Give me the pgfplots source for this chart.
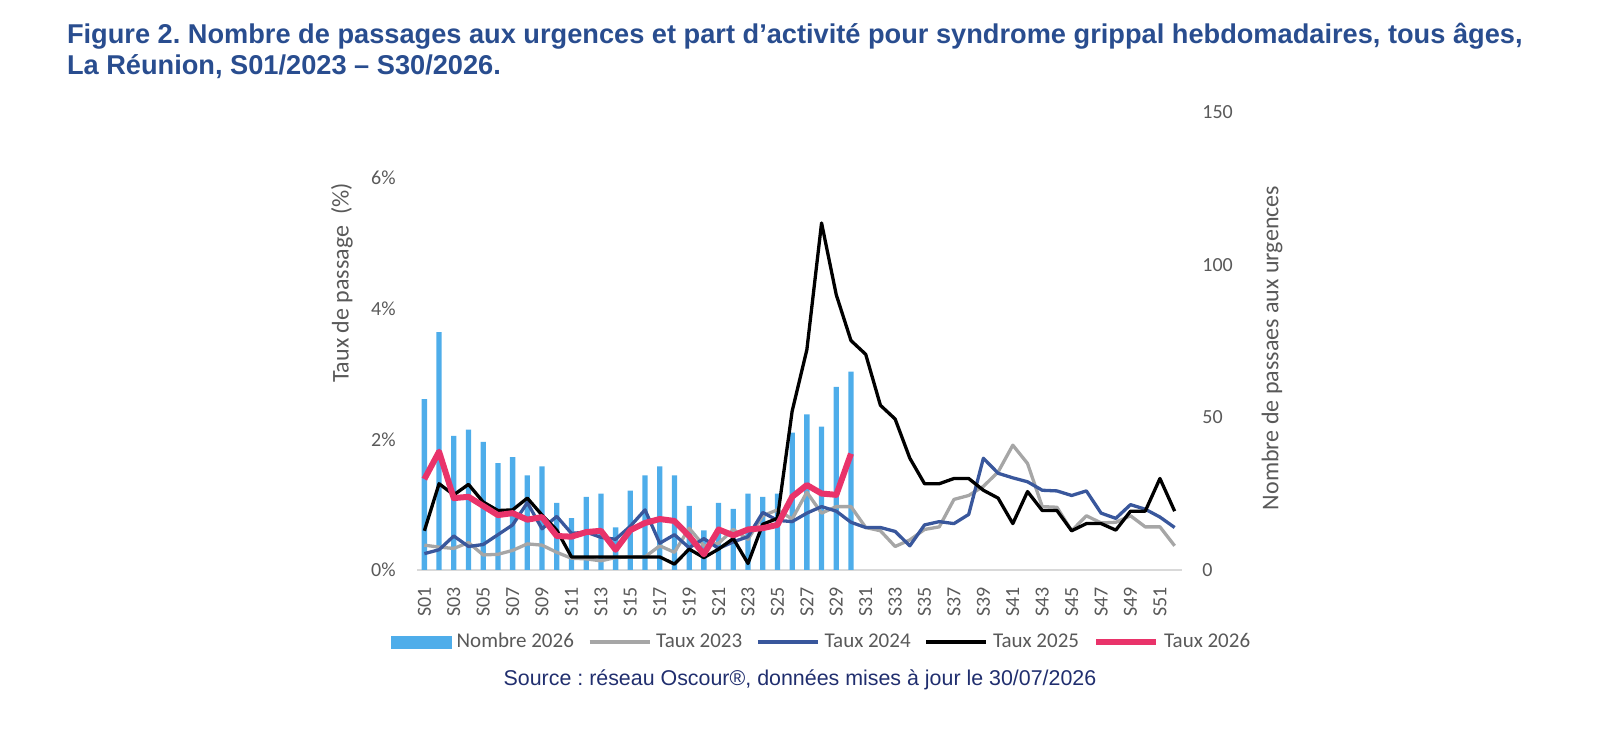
\documentclass[border=0pt]{standalone}
\usepackage{fontspec}
\setmainfont{Carlito}
\newfontfamily\arialfont{Liberation Sans}
\usepackage{pgfplots}
\usepackage{pgfplotstable}
\pgfplotsset{compat=1.18}
\frenchspacing
\definecolor{barblue}{RGB}{78,173,234}
\definecolor{gray23}{RGB}{166,166,166}
\definecolor{blue24}{RGB}{57,87,156}
\definecolor{black25}{RGB}{0,0,0}
\definecolor{pink26}{RGB}{233,51,106}
\definecolor{textgray}{RGB}{89,89,89}
\definecolor{basegray}{RGB}{217,217,217}
\definecolor{titleblue}{RGB}{41,77,143}
\definecolor{navy}{RGB}{32,46,110}

\pgfplotstableread{
x y
1 56
2 78
3 44
4 46
5 42
6 35
7 37
8 31
9 34
10 22
11 17
12 24
13 25
14 14
15 26
16 31
17 34
18 31
19 21
20 13
21 22
22 20
23 25
24 24
25 25
26 45
27 51
28 47
29 60
30 65
}\nombre

\pgfplotstableread{
x y
1 0.38
2 0.35
3 0.33
4 0.42
5 0.23
6 0.24
7 0.30
8 0.40
9 0.38
10 0.27
11 0.18
12 0.17
13 0.14
14 0.19
15 0.20
16 0.20
17 0.37
18 0.27
19 0.64
20 0.37
21 0.41
22 0.62
23 0.47
24 0.83
25 0.92
26 0.78
27 1.19
28 0.87
29 0.97
30 0.97
31 0.65
32 0.60
33 0.36
34 0.46
35 0.62
36 0.66
37 1.08
38 1.14
39 1.28
40 1.50
41 1.91
42 1.63
43 0.97
44 0.96
45 0.60
46 0.83
47 0.72
48 0.73
49 0.83
50 0.66
51 0.66
52 0.37
}\tauxA

\pgfplotstableread{
x y
1 0.25
2 0.31
3 0.52
4 0.36
5 0.39
6 0.54
7 0.69
8 1.03
9 0.63
10 0.82
11 0.56
12 0.58
13 0.50
14 0.47
15 0.67
16 0.92
17 0.41
18 0.54
19 0.34
20 0.48
21 0.33
22 0.43
23 0.51
24 0.88
25 0.76
26 0.74
27 0.87
28 0.97
29 0.90
30 0.73
31 0.65
32 0.65
33 0.59
34 0.37
35 0.69
36 0.74
37 0.71
38 0.85
39 1.71
40 1.48
41 1.41
42 1.35
43 1.22
44 1.21
45 1.14
46 1.21
47 0.87
48 0.79
49 1.00
50 0.93
51 0.81
52 0.65
}\tauxB

\pgfplotstableread{
x y
1 0.60
2 1.32
3 1.15
4 1.31
5 1.04
6 0.91
7 0.92
8 1.10
9 0.84
10 0.61
11 0.20
12 0.20
13 0.20
14 0.20
15 0.20
16 0.20
17 0.20
18 0.09
19 0.32
20 0.19
21 0.32
22 0.48
23 0.10
24 0.70
25 0.79
26 2.43
27 3.37
28 5.31
29 4.21
30 3.51
31 3.30
32 2.52
33 2.31
34 1.71
35 1.32
36 1.32
37 1.40
38 1.40
39 1.22
40 1.10
41 0.71
42 1.20
43 0.91
44 0.91
45 0.60
46 0.71
47 0.71
48 0.61
49 0.90
50 0.90
51 1.40
52 0.90
}\tauxC

\pgfplotstableread{
x y
1 1.39
2 1.81
3 1.10
4 1.12
5 0.98
6 0.84
7 0.87
8 0.77
9 0.81
10 0.52
11 0.51
12 0.58
13 0.60
14 0.31
15 0.61
16 0.72
17 0.78
18 0.75
19 0.52
20 0.24
21 0.62
22 0.53
23 0.62
24 0.64
25 0.69
26 1.12
27 1.30
28 1.17
29 1.15
30 1.78
}\tauxD

\begin{document}
\begin{tikzpicture}
\useasboundingbox (0,0) rectangle (800bp,371bp);
\pgfplotsset{base/.style={
  scale only axis, width=382.5bp, height=228.75bp,
  at={(208.5bp,86bp)}, anchor=south west,
  xmin=0.5, xmax=52.5, major tick length=0pt,
  ticklabel style={font=\fontsize{10bp}{12bp}\selectfont, text=textgray},
}}
% right axis: counts (bars)
\begin{axis}[base, ymin=0, ymax=150,
  axis x line*=bottom, axis y line*=right, axis line style={-},
  y axis line style={draw=none},
  x axis line style={draw=basegray, line width=1bp},
  xtick=\empty,
  ytick={0,50,100,150}, yticklabels={0,50,100,150},
  yticklabel style={anchor=west, inner sep=0pt, xshift=10bp}]
\addplot[ybar, bar width=2.65bp, fill=barblue, draw=none] table[x=x,y=y] {\nombre};
\end{axis}
% left axis: rates (lines)
\begin{axis}[base, ymin=0, ymax=7,
  axis x line*=bottom, axis y line*=left, axis line style={draw=none},
  xtick={1,3,...,51},
  xticklabels={S01,S03,S05,S07,S09,S11,S13,S15,S17,S19,S21,S23,S25,S27,S29,S31,S33,S35,S37,S39,S41,S43,S45,S47,S49,S51},
  xticklabel style={rotate=90, anchor=east, inner sep=0pt},
  xticklabel shift=8.5bp,
  ytick={0,2,4,6}, yticklabels={0\%,2\%,4\%,6\%},
  yticklabel style={anchor=east, inner sep=0pt, xshift=-10.5bp},
  legend image code/.code={\draw[#1] (0bp,0bp) -- (30bp,0bp);},
  legend cell align=left,
  legend style={at={(0.5275,-0.1574)}, anchor=center, draw=none, fill=none,
    legend columns=5, font=\fontsize{10.5bp}{12bp}\selectfont, text=textgray,
    inner sep=0pt, nodes={inner sep=0pt},
    /tikz/every odd column/.style={column sep=2.5bp},
    /tikz/every even column/.style={column sep=7bp}},
]
\addlegendimage{legend image code/.code={\fill[barblue] (0bp,-3bp) rectangle (30bp,3bp);}}
\addlegendentry{Nombre 2026}
\addplot[gray23, line width=1.65bp, line join=round] table[x=x,y=y] {\tauxA};
\addlegendentry{Taux 2023}
\addplot[blue24, line width=1.65bp, line join=round] table[x=x,y=y] {\tauxB};
\addlegendentry{Taux 2024}
\addplot[black25, line width=1.65bp, line join=round] table[x=x,y=y] {\tauxC};
\addlegendentry{Taux 2025}
\addplot[pink26, line width=3bp, line join=round] table[x=x,y=y] {\tauxD};
\addlegendentry{Taux 2026}
\end{axis}
\node[rotate=90, font=\fontsize{12bp}{14bp}\selectfont, text=textgray] at (171bp,229.5bp) {Taux de passage\ \ (\%)};
\node[rotate=90, font=\fontsize{12bp}{14bp}\selectfont, text=textgray] at (636bp,197bp) {Nombre de passaes aux urgences};
\node[anchor=base west, inner sep=0pt, font=\arialfont\bfseries\fontsize{13.6bp}{16bp}\selectfont, text=titleblue] at (33.3bp,349.3bp) {Figure 2. Nombre de passages aux urgences et part d’activité pour syndrome grippal hebdomadaires, tous âges,};
\node[anchor=base west, inner sep=0pt, font=\arialfont\bfseries\fontsize{13.6bp}{16bp}\selectfont, text=titleblue] at (33.3bp,333.5bp) {La Réunion, S01/2023 – S30/2026.};
\node[inner sep=0pt, font=\arialfont\fontsize{10.7bp}{12bp}\selectfont, text=navy] at (400bp,31bp) {Source : réseau Oscour®, données mises à jour le 30/07/2026};
\end{tikzpicture}
\end{document}
